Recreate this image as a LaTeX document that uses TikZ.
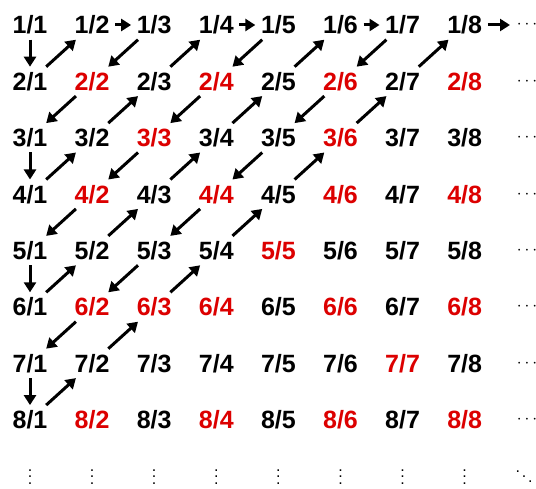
\documentclass[tikz,border=0pt]{standalone}
\usepackage{fontspec}
\setmainfont{Liberation Sans}
\usepackage{tikz}
\usetikzlibrary{arrows.meta}
\definecolor{redfrac}{RGB}{220,0,0}

\begin{document}
\begin{tikzpicture}[x=1pt,y=-1pt,
    frac/.style={font=\fontsize{25}{25}\selectfont\bfseries,inner sep=5.5pt,text height=18pt,text depth=0pt},
    walk/.style={line width=3pt,-{Triangle[length=10pt,width=12pt]}},
    dots/.style={font=\fontsize{16}{16}\selectfont,inner sep=0pt}]
  \useasboundingbox (0,0) rectangle (536,489);
  % fractions, red when not in lowest terms
  \foreach \r in {1,...,8}{
    \foreach \c in {1,...,8}{
      \pgfmathtruncatemacro{\g}{gcd(\r,\c)}
      \ifnum\g>1 \def\col{redfrac}\else\def\col{black}\fi
      \node[frac,text=\col] (n-\r-\c) at ({30+62.1*(\c-1)},{25+56.4*(\r-1)}) {\r/\c};
    }
    \node[dots] (h-\r) at (527,{25+56.4*(\r-1)}) {$\cdots$};
  }
  % dots below the columns
  \foreach \c in {1,...,8}
    \node[inner sep=0pt] (v-\c) at ({30+62.1*(\c-1)},472) {\scalebox{1.6}{$\vdots$}};
  \node[inner sep=0pt] (d) at (524,472) {\scalebox{1.6}{$\ddots$}};
  % the walk through the table
  \foreach \a/\b in {1-1/2-1, 2-1/1-2, 1-2/1-3, 1-3/2-2, 2-2/3-1, 3-1/4-1, 4-1/3-2,
      3-2/2-3, 2-3/1-4, 1-4/1-5, 1-5/2-4, 2-4/3-3, 3-3/4-2, 4-2/5-1, 5-1/6-1,
      6-1/5-2, 5-2/4-3, 4-3/3-4, 3-4/2-5, 2-5/1-6, 1-6/1-7, 1-7/2-6, 2-6/3-5,
      3-5/4-4, 4-4/5-3, 5-3/6-2, 6-2/7-1, 7-1/8-1, 8-1/7-2, 7-2/6-3, 6-3/5-4,
      5-4/4-5, 4-5/3-6, 3-6/2-7, 2-7/1-8}
    \draw[walk] (n-\a) -- (n-\b);
  \coordinate (out) at (510,25);
  \draw[walk] (n-1-8) -- (out);
\end{tikzpicture}
\end{document}
